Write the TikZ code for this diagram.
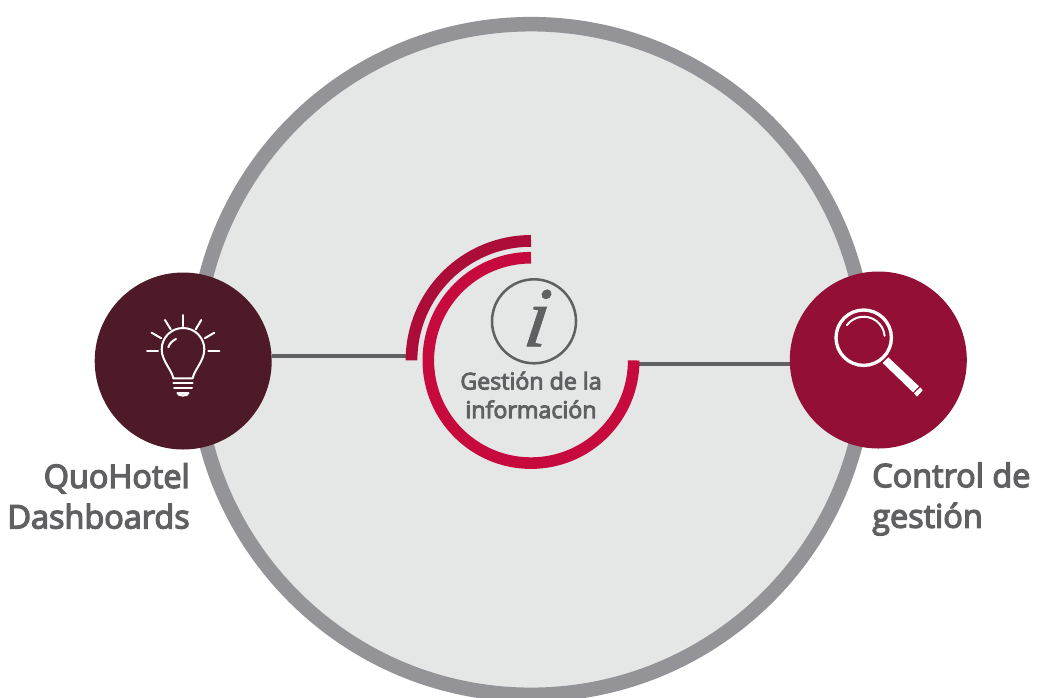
\documentclass[tikz,border=0pt]{standalone}
\usepackage{fontspec}
\setmainfont{Open Sans}[FakeBold=4]
\newfontfamily\infofont{Liberation Serif}[ItalicFeatures={FakeBold=0.9,FakeSlant=0.15}]
\definecolor{ringg}{HTML}{949498}
\definecolor{fillg}{HTML}{E5E7E6}
\definecolor{darkw}{HTML}{4F1A28}
\definecolor{wine}{HTML}{930F35}
\definecolor{red1}{HTML}{C60A3D}
\definecolor{red2}{HTML}{AB0D38}
\definecolor{txt}{HTML}{606062}
\tikzset{
  conn/.style={draw=txt,line width=3pt},
  lbl/.style={text=txt,font=\fontsize{24.3}{30.4}\selectfont,inner sep=0pt},
  ico/.style={draw=white,line width=1.5pt,line cap=round,line join=round},
}
\begin{document}
\begin{tikzpicture}[x=0.75pt,y=-0.75pt]
\useasboundingbox (0,0) rectangle (1037,697);
\fill[white] (0,0) rectangle (1037,697);
\begin{scope}
\clip (0,0) rectangle (1037,697);
\node[circle,draw=ringg,fill=fillg,line width=10.9pt,minimum size=503pt,inner sep=0pt] (big) at (531,359.5) {};
\end{scope}
\coordinate (arcL) at (411,356);
\coordinate (arcR) at (633,364);
\node[circle,fill=darkw,minimum size=132.75pt,inner sep=0pt] (bulb) at (183.2,361) {};
\node[circle,fill=wine,minimum size=132.75pt,inner sep=0pt] (lens) at (878.3,360) {};
\draw[conn] (arcL -| bulb.east) -- (arcL);
\draw[conn] (arcR) -- (arcR -| lens.west);
% arcs
\draw[red2,line width=8.8pt] (531,240.9) arc[start angle=-90,end angle=-180,radius=119.5];
\draw[red1,line width=8.7pt] (531,257.7) arc[start angle=-90,end angle=-360,radius=102.7];
% info
\node[circle,draw=txt,line width=1.9pt,minimum size=63pt,inner sep=0pt] (info) at (534,321.3) {};
\node[text=txt,inner sep=0pt,font=\fontsize{64}{64}\infofont\itshape] (i) at (534,318) {i};
\node[text=txt,font=\fontsize{17.4}{21.5}\selectfont,align=center,inner sep=0pt] (gest) at (531,395) {Gestión de la\\información};
% labels
\node[lbl,align=right,anchor=east] (q) at (190,496) {QuoHotel\\Dashboards};
\node[lbl,align=left,anchor=west] (c) at (872,499) {Control de\\gestión};
% bulb icon
\draw[ico] (173.3,378.3) .. controls (172,370) and (161.7,361) .. (161.7,349.3) arc[start angle=-180,end angle=0,radius=21.3] .. controls (204.3,361) and (194,370) .. (192.7,378.3) -- cycle;
\draw[ico] (173.3,383.3) -- (192.7,383.3);
\draw[ico] (174,388.3) -- (192,388.3);
\draw[ico] (177.5,393) .. controls (178,396.5) and (188,396.5) .. (188.5,393) -- cycle;
\draw[ico] (183,315) -- (183,326);
\draw[ico] (165,320) -- (170.7,329.3);
\draw[ico] (201.3,320) -- (195.7,329.3);
\draw[ico] (151.7,332.7) -- (161.3,338.3);
\draw[ico] (214.3,332.7) -- (204.7,338.3);
\draw[ico] (147,350.7) -- (158,350.7);
\draw[ico] (208.3,350.7) -- (219.3,350.7);
\draw[ico] (168.3,347.3) .. controls (169.5,343.5) and (172.5,340.5) .. (176,339);
% lens icon
\draw[draw=white,line width=2.5pt] (863.7,337.7) circle[radius=27.7];
\draw[ico] (863.7,337.7) ++(-143:21) arc[start angle=-143,end angle=-5,radius=21];
\fill[white] (888.3,357.3) -- (882.7,363) -- (913,392.3) -- (919,386.3) -- cycle;
\fill[white] (920.3,387.3) -- (914,393.3) -- (917,396.7) -- (922.7,390.3) -- cycle;
\end{tikzpicture}
\end{document}
